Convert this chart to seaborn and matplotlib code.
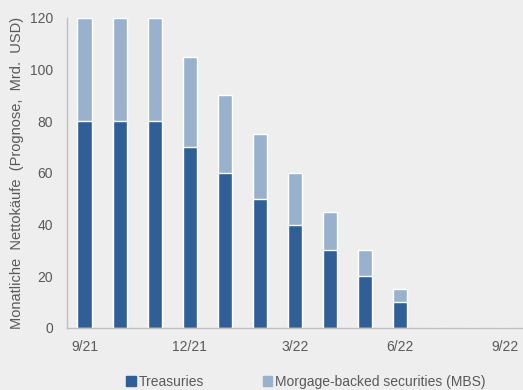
import numpy as np
import pandas as pd
import matplotlib
matplotlib.use("Agg")
import matplotlib.pyplot as plt
from matplotlib.patches import Patch
import seaborn as sns

# monthly net purchases forecast (bn USD)
months = ["9/21", "10/21", "11/21", "12/21", "1/22", "2/22", "3/22",
          "4/22", "5/22", "6/22", "7/22", "8/22", "9/22"]
treasuries = [80, 80, 80, 70, 60, 50, 40, 30, 20, 10, 0, 0, 0]
mbs = [40, 40, 40, 35, 30, 25, 20, 15, 10, 5, 0, 0, 0]
tick_labels = ["9/21", "12/21", "3/22", "6/22", "9/22"]

dark = "#2F5F96"
light = "#9AB1CD"
bg = "#EEEEEE"
grey = "#BFBFBF"
txt = "#595959"

sns.set_style("white")
plt.rcParams["font.family"] = ["Liberation Sans", "DejaVu Sans"]
plt.rcParams["font.size"] = 10

df = pd.DataFrame({"month": months, "treasuries": treasuries, "mbs": mbs})
df["total"] = df["treasuries"] + df["mbs"]

fig = plt.figure(figsize=(5.23, 3.9), dpi=100, facecolor=bg)
ax = fig.add_axes([0.128, 0.159, 0.872, 0.795], facecolor=bg)

sns.barplot(data=df, x="month", y="total", order=months, color=light,
            width=0.4, saturation=1, ax=ax)
sns.barplot(data=df, x="month", y="treasuries", order=months, color=dark,
            width=0.4, saturation=1, ax=ax)

ax.set_xlim(-0.5, 12.5)
ax.set_ylim(0, 120)
ax.set_yticks(range(0, 121, 20))

# ticks at quarter boundaries, labels under the bars
ax.set_xticks([-0.5, 2.5, 5.5, 8.5, 11.5])
ax.set_xticklabels([])
ax.set_xticks([0, 3, 6, 9, 12], minor=True)
ax.set_xticklabels(tick_labels, minor=True)
ax.tick_params(axis="x", which="major", length=4, color=grey, direction="out")
ax.tick_params(axis="x", which="minor", length=0, pad=9, labelcolor=txt, labelsize=10)
ax.tick_params(axis="y", length=4, color=grey, direction="out", pad=6,
               labelcolor=txt, labelsize=10)

for s in ["top", "right"]:
    ax.spines[s].set_visible(False)
for s in ["left", "bottom"]:
    ax.spines[s].set_color(grey)
    ax.spines[s].set_linewidth(1)

ax.set_xlabel("")
ax.set_ylabel("Monatliche  Nettokäufe  (Prognose,  Mrd.  USD)", color=txt,
              fontsize=10.5, labelpad=4)

handles = [Patch(color=dark, label="Treasuries"),
           Patch(color=light, label="Morgage-backed securities (MBS)")]
fig.legend(handles=handles, loc="lower center", bbox_to_anchor=(0.585, -0.03),
           ncol=2, frameon=False, handlelength=0.7, handleheight=0.7,
           handletextpad=0.2, columnspacing=4.2, labelcolor=txt, fontsize=10)

fig.savefig("out.png", dpi=100, facecolor=bg)
